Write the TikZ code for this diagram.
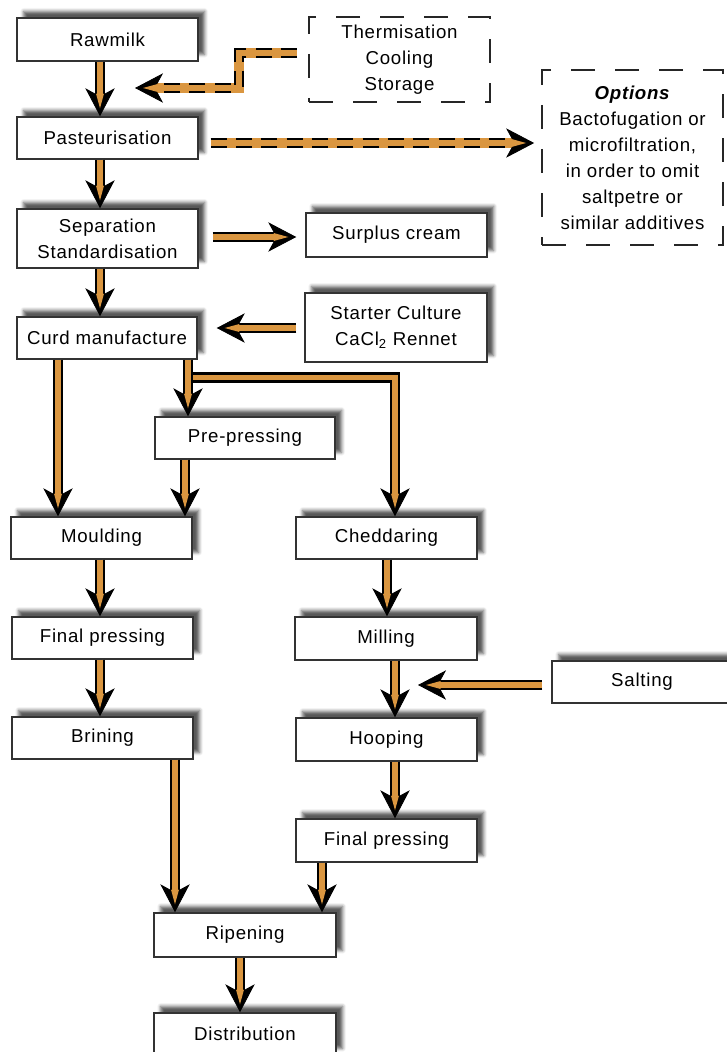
\documentclass[tikz,border=0pt]{standalone}
\usepackage{fontspec}
\setmainfont{Liberation Sans}[LetterSpace=4]
\usetikzlibrary{arrows.meta,calc,shadows.blur}
\definecolor{milk}{RGB}{218,150,64}
\begin{document}
\begin{tikzpicture}[x=0.75pt,y=-0.75pt,font=\fontsize{14}{19.5}\selectfont,
 box/.style={draw=black!80, line width=1.1pt, fill=white, inner sep=0pt, align=center,
   minimum width=135.75pt, minimum height=31.5pt,
   blur shadow={shadow xshift=5pt, shadow yshift=5pt, shadow blur radius=2.5pt, shadow opacity=65}},
 dbox/.style={draw=black!85, line width=1.3pt, dash pattern=on 18pt off 15pt, inner sep=0pt,
   align=center, minimum width=135.75pt},
 flow/.style={draw=black, line width=8pt, line join=miter,
   -{Stealth[length=21pt,width=22pt,inset=6pt,line width=0.6pt]},
   postaction={draw=milk, line width=4pt, shorten >=6pt,
     -{Stealth[length=11pt,width=6pt,inset=1pt,line width=0pt]}}},
 dbase/.style={draw=milk, line width=7.5pt, line join=miter, shorten >=14pt},
 dedge/.style={draw=black, line width=7.5pt, line join=miter, dash pattern=on 12pt off 7pt,
   -{Stealth[length=21pt,width=22pt,inset=6pt,line width=0.6pt]}},
 dtop/.style={draw=milk, line width=5pt, line join=miter, shorten >=6pt,
   -{Stealth[length=11pt,width=6pt,inset=1pt,line width=0pt]}}]
\useasboundingbox (0,0) rectangle (726,1052);

% nodes
\node[box, minimum height=32.25pt] (raw) at (107.5,39.5) {Rawmilk};
\node[dbox, minimum height=63.75pt] (therm) at (399.5,59.5) {Thermisation\\Cooling\\Storage};
\node[box] (past) at (107.5,138) {Pasteurisation};
\node[dbox, minimum height=131.25pt] (options) at (632.5,157.5)
  {\textbf{\textit{Options}}\\Bactofugation or\\microfiltration,\\in order to omit\\saltpetre or\\similar additives};
\node[box, minimum height=44.25pt] (sep) at (107.5,238.5) {Separation\\Standardisation};
\node[box, minimum height=33pt] (surplus) at (396.5,235) {Surplus cream};
\node[box, minimum width=136.5pt, minimum height=51.75pt] (starter) at (396,327.5)
  {Starter Culture\\CaCl\textsubscript{2} Rennet};
\node[box, minimum width=135pt] (curd) at (107,338) {Curd manufacture};
\node[box, minimum width=135pt] (pre) at (245,438) {Pre-pressing};
\node[box] (mould) at (101.5,538) {Moulding};
\node[box] (chedd) at (386.5,538) {Cheddaring};
\node[box] (fpL) at (102.5,638) {Final pressing};
\node[box, minimum width=136.5pt, minimum height=32.25pt] (mill) at (386,638.5) {Milling};
\node[box, minimum width=135pt] (salt) at (642,682) {Salting};
\node[box] (brin) at (102.5,738) {Brining};
\node[box, minimum height=32.25pt] (hoop) at (386.5,739.5) {Hooping};
\node[box, minimum height=32.25pt] (fpR) at (386.5,840.5) {Final pressing};
\node[box, minimum width=136.5pt, minimum height=33pt] (ripe) at (245,935) {Ripening};
\node[box, minimum width=136.5pt] (dist) at (245,1034) {Distribution};

\coordinate (tA) at (135,88);
\coordinate (sE) at (418,685);

% dashed supply arrows (orange body, dashed black rims)
\foreach \s in {dbase,dedge,dtop}{
  \draw[\s] ($(therm.west)+(-11,-6.5)$) -- ++(-58,0) |- (tA);
  \draw[\s] ($(past.east)+(12,5)$) -- ($(options.west)+(-7,-14.5)$);
}

% main flow
\draw[flow] ($(raw.south)+(-7.5,0)$) -- ($(past.north)+(-7.5,0)$);
\draw[flow] ($(past.south)+(-7.5,0)$) -- ($(sep.north)+(-7.5,0)$);
\draw[flow] ($(sep.east)+(14,-1.5)$) -- ($(surplus.west)+(-9,2)$);
\draw[flow] ($(sep.south)+(-7.5,0)$) -- ($(curd.north)+(-7,0)$);
\draw[flow] ($(starter.west)+(-8,0.5)$) -- ($(curd.east)+(19,-10)$);
\draw[flow] ($(curd.south)+(-49,0)$) -- ($(mould.north)+(-43.5,0)$);
\draw[flow] ($(curd.south)+(81,0)$) -- ++(0,18) -| ($(chedd.north)+(8.5,0)$);
\draw[flow] ($(curd.south)+(81,0)$) -- ($(pre.north)+(-57,0)$);
\draw[flow] ($(pre.south)+(-60,0)$) -- ($(mould.north)+(83.5,0)$);
\draw[flow] ($(mould.south)+(-1.5,0)$) -- ($(fpL.north)+(-2.5,0)$);
\draw[flow] ($(fpL.south)+(-2.5,0)$) -- ($(brin.north)+(-2.5,0)$);
\draw[flow] ($(brin.south)+(72.5,0)$) -- ($(ripe.north)+(-70,0)$);
\draw[flow] ($(chedd.south)+(0.5,0)$) -- ($(mill.north)+(1,0)$);
\draw[flow] ($(mill.south)+(9,0)$) -- ($(hoop.north)+(8.5,0)$);
\draw[flow] ($(salt.west)+(-9,3)$) -- (sE);
\draw[flow] ($(hoop.south)+(8.5,0)$) -- ($(fpR.north)+(8.5,0)$);
\draw[flow] ($(fpR.south)+(-64.5,0)$) -- ($(ripe.north)+(77,0)$);
\draw[flow] ($(ripe.south)+(-5,0)$) -- ($(dist.north)+(-5,0)$);
\end{tikzpicture}
\end{document}
